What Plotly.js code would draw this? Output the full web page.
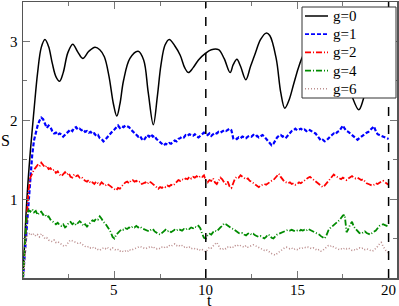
<!DOCTYPE html>
<html>
<head>
<meta charset="utf-8">
<script src="https://cdn.plot.ly/plotly-3.0.1.min.js"></script>
<style>html,body{margin:0;padding:0;background:#fff;}#chart{width:399px;height:306px;}</style>
</head>
<body>
<div id="chart"></div>
<script>
// time grid for the fluctuating series
const t = [0,0.1,0.2,0.3,0.4,0.5,0.6,0.7,0.8,0.9,1,1.1,1.2,1.3,1.4,1.5,1.6,1.7,1.8,1.9,2,2.1,2.2,2.3,2.4,2.5,2.6,2.7,2.8,2.9,3,3.1,3.2,3.3,3.4,3.5,3.6,3.7,3.8,3.9,4,4.1,4.2,4.3,4.4,4.5,4.6,4.7,4.8,4.9,5,5.1,5.2,5.3,5.4,5.5,5.6,5.7,5.8,5.9,6,6.1,6.2,6.3,6.4,6.5,6.6,6.7,6.8,6.9,7,7.1,7.2,7.3,7.4,7.5,7.6,7.7,7.8,7.9,8,8.1,8.2,8.3,8.4,8.5,8.6,8.7,8.8,8.9,9,9.1,9.2,9.3,9.4,9.5,9.6,9.7,9.8,9.9,10,10.1,10.2,10.3,10.4,10.5,10.6,10.7,10.8,10.9,11,11.1,11.2,11.3,11.4,11.5,11.6,11.7,11.8,11.9,12,12.1,12.2,12.3,12.4,12.5,12.6,12.7,12.8,12.9,13,13.1,13.2,13.3,13.4,13.5,13.6,13.7,13.8,13.9,14,14.1,14.2,14.3,14.4,14.5,14.6,14.7,14.8,14.9,15,15.1,15.2,15.3,15.4,15.5,15.6,15.7,15.8,15.9,16,16.1,16.2,16.3,16.4,16.5,16.6,16.7,16.8,16.9,17,17.1,17.2,17.3,17.4,17.5,17.6,17.7,17.8,17.9,18,18.1,18.2,18.3,18.4,18.5,18.6,18.7,18.8,18.9,19,19.1,19.2,19.3,19.4,19.5,19.6,19.7,19.8,19.9,20];

// g=0 (smooth curve)
const t0 = [0,0.2,0.4,0.6,0.8,1.0,1.2,1.4,1.6,1.8,2.0,2.2,2.45,2.72,3.0,3.27,3.6,3.94,4.2,4.45,4.7,4.95,5.13,5.3,5.5,5.85,6.3,6.6,6.85,7.13,7.35,7.55,7.77,8.0,8.3,8.6,8.85,9.05,9.3,9.6,9.96,10.3,10.7,11.0,11.33,11.5,11.7,11.9,12.19,12.45,12.7,13.0,13.3,13.5,13.85,14.1,14.32,14.55,14.8,15.05,15.25,15.6,16.0,16.4,16.8,17.2,17.6,18.0,18.37,18.6,18.85,19.2,19.52,19.8,20.0];
const s0 = [0,0.95,1.6,2.12,2.6,2.92,3.02,2.93,2.72,2.55,2.49,2.6,2.85,2.96,2.86,2.78,2.87,2.92,2.89,2.8,2.56,2.2,2.05,2.2,2.5,2.78,2.87,2.76,2.35,1.94,2.3,2.7,2.95,3.02,2.94,2.82,2.66,2.6,2.66,2.76,2.84,2.89,2.89,2.78,2.6,2.7,2.77,2.68,2.51,2.68,2.84,3.02,3.1,3.07,2.78,2.35,2.15,2.25,2.45,2.65,2.78,2.95,3.0,2.85,2.75,2.8,2.6,2.3,2.13,2.25,2.55,2.8,2.93,2.88,2.76];

// g=1
const s1 = [0,0.33,0.66,0.99,1.30,1.55,1.74,1.86,1.93,1.99,2.03,2.01,1.94,1.90,1.93,1.91,1.86,1.83,1.84,1.81,1.83,1.82,1.79,1.81,1.84,1.86,1.88,1.86,1.90,1.91,1.88,1.89,1.87,1.88,1.85,1.86,1.84,1.85,1.82,1.83,1.80,1.81,1.77,1.76,1.73,1.75,1.78,1.80,1.84,1.86,1.88,1.91,1.93,1.90,1.92,1.91,1.93,1.92,1.91,1.88,1.86,1.84,1.81,1.79,1.80,1.76,1.74,1.78,1.81,1.79,1.82,1.79,1.80,1.76,1.74,1.71,1.70,1.68,1.70,1.69,1.71,1.70,1.72,1.74,1.73,1.76,1.77,1.79,1.78,1.81,1.80,1.82,1.81,1.80,1.82,1.79,1.78,1.80,1.82,1.84,1.83,1.81,1.83,1.80,1.82,1.84,1.83,1.85,1.84,1.86,1.87,1.86,1.88,1.89,1.87,1.77,1.78,1.76,1.78,1.77,1.79,1.78,1.77,1.79,1.80,1.79,1.81,1.79,1.80,1.78,1.80,1.81,1.79,1.76,1.74,1.71,1.68,1.70,1.75,1.78,1.80,1.81,1.79,1.80,1.78,1.81,1.84,1.86,1.87,1.89,1.87,1.88,1.89,1.87,1.88,1.86,1.88,1.87,1.86,1.84,1.83,1.80,1.77,1.74,1.75,1.73,1.74,1.77,1.79,1.81,1.83,1.82,1.85,1.86,1.89,1.93,1.89,1.86,1.85,1.83,1.82,1.80,1.78,1.75,1.77,1.79,1.81,1.82,1.84,1.85,1.87,1.89,1.92,1.86,1.82,1.81,1.80,1.79,1.78,1.77,1.76];

// g=2
const s2 = [0,0.40,0.80,1.10,1.27,1.33,1.37,1.40,1.43,1.41,1.46,1.43,1.40,1.42,1.38,1.39,1.36,1.37,1.33,1.35,1.31,1.29,1.32,1.34,1.31,1.33,1.28,1.27,1.31,1.29,1.30,1.27,1.28,1.25,1.23,1.22,1.24,1.20,1.21,1.19,1.22,1.20,1.18,1.21,1.19,1.17,1.19,1.18,1.16,1.14,1.12,1.11,1.14,1.13,1.16,1.19,1.21,1.22,1.20,1.23,1.24,1.22,1.23,1.21,1.22,1.19,1.20,1.21,1.19,1.22,1.21,1.19,1.17,1.15,1.13,1.15,1.14,1.16,1.15,1.17,1.16,1.18,1.17,1.19,1.22,1.24,1.23,1.25,1.24,1.26,1.25,1.28,1.26,1.28,1.27,1.29,1.27,1.29,1.28,1.30,1.23,1.21,1.24,1.23,1.26,1.21,1.19,1.23,1.27,1.25,1.21,1.19,1.22,1.16,1.14,1.20,1.26,1.28,1.27,1.30,1.28,1.27,1.25,1.26,1.23,1.22,1.20,1.18,1.17,1.15,1.17,1.18,1.19,1.18,1.20,1.21,1.23,1.24,1.27,1.30,1.32,1.28,1.25,1.22,1.21,1.20,1.21,1.19,1.20,1.18,1.19,1.21,1.20,1.22,1.23,1.25,1.27,1.28,1.26,1.25,1.23,1.21,1.18,1.17,1.15,1.17,1.20,1.22,1.25,1.28,1.31,1.29,1.28,1.27,1.25,1.27,1.26,1.24,1.26,1.27,1.29,1.27,1.26,1.27,1.25,1.24,1.25,1.22,1.20,1.19,1.18,1.17,1.18,1.20,1.19,1.21,1.22,1.23,1.21,1.19,1.18];

// g=4
const s4 = [0,0.42,0.78,0.86,0.84,0.87,0.83,0.85,0.80,0.83,0.84,0.80,0.81,0.77,0.78,0.74,0.72,0.70,0.68,0.70,0.67,0.66,0.68,0.64,0.66,0.70,0.71,0.68,0.70,0.67,0.69,0.72,0.70,0.66,0.68,0.65,0.68,0.71,0.73,0.72,0.75,0.74,0.78,0.75,0.71,0.69,0.66,0.62,0.58,0.52,0.50,0.55,0.57,0.59,0.62,0.61,0.63,0.62,0.64,0.63,0.65,0.64,0.66,0.64,0.65,0.63,0.62,0.61,0.60,0.59,0.61,0.62,0.59,0.57,0.56,0.55,0.57,0.60,0.61,0.59,0.60,0.58,0.60,0.61,0.60,0.62,0.61,0.60,0.62,0.61,0.63,0.62,0.64,0.63,0.65,0.64,0.66,0.63,0.56,0.51,0.50,0.54,0.56,0.55,0.58,0.60,0.59,0.62,0.64,0.66,0.69,0.68,0.66,0.65,0.63,0.62,0.60,0.58,0.57,0.56,0.57,0.55,0.54,0.56,0.57,0.55,0.56,0.54,0.53,0.52,0.53,0.51,0.50,0.52,0.55,0.54,0.51,0.50,0.53,0.55,0.56,0.57,0.58,0.59,0.60,0.61,0.60,0.61,0.60,0.59,0.60,0.59,0.61,0.60,0.61,0.60,0.62,0.61,0.60,0.58,0.57,0.56,0.55,0.53,0.51,0.50,0.54,0.60,0.63,0.65,0.67,0.69,0.70,0.73,0.76,0.79,0.80,0.58,0.62,0.68,0.71,0.65,0.62,0.59,0.57,0.56,0.58,0.59,0.57,0.56,0.55,0.57,0.58,0.60,0.63,0.66,0.67,0.68,0.67,0.66,0.65];

// g=6
const s6 = [0,0.30,0.52,0.55,0.57,0.54,0.56,0.53,0.55,0.52,0.56,0.53,0.50,0.51,0.48,0.47,0.46,0.48,0.45,0.46,0.44,0.43,0.41,0.40,0.42,0.46,0.48,0.47,0.46,0.45,0.44,0.45,0.43,0.41,0.40,0.39,0.40,0.38,0.39,0.37,0.38,0.36,0.35,0.37,0.38,0.37,0.39,0.37,0.36,0.38,0.36,0.35,0.36,0.34,0.35,0.33,0.34,0.33,0.36,0.35,0.36,0.37,0.38,0.39,0.40,0.39,0.38,0.37,0.38,0.39,0.38,0.40,0.38,0.37,0.38,0.37,0.39,0.38,0.40,0.39,0.41,0.40,0.42,0.43,0.41,0.42,0.40,0.41,0.39,0.40,0.38,0.39,0.37,0.38,0.37,0.36,0.37,0.35,0.36,0.34,0.33,0.36,0.39,0.38,0.41,0.43,0.45,0.40,0.37,0.36,0.38,0.37,0.39,0.38,0.40,0.39,0.41,0.40,0.42,0.41,0.40,0.39,0.41,0.39,0.40,0.41,0.42,0.41,0.40,0.39,0.37,0.36,0.35,0.36,0.34,0.33,0.31,0.30,0.29,0.31,0.33,0.35,0.36,0.38,0.39,0.38,0.37,0.38,0.36,0.37,0.36,0.38,0.37,0.38,0.39,0.38,0.39,0.38,0.37,0.38,0.36,0.35,0.36,0.34,0.35,0.37,0.39,0.41,0.40,0.41,0.39,0.38,0.37,0.36,0.37,0.36,0.38,0.37,0.38,0.36,0.35,0.36,0.35,0.37,0.38,0.37,0.38,0.36,0.37,0.36,0.35,0.34,0.35,0.37,0.40,0.43,0.45,0.40,0.36,0.33,0.32];

const seriesNames = ['g=0','g=1','g=2','g=4','g=6'];
const xTicks = [5,10,15,20];
const xMinor = [2.5,7.5,12.5,17.5];
const yTicks = [1,2,3];
const yMinor = [0.5,1.5,2.5];
const markTimes = [10,20];

const FONT = '"Liberation Serif", "Times New Roman", Tinos, "DejaVu Serif", serif';

// styles per series (index-aligned with seriesNames)
const lineStyles = [
  {color:'#000000', width:1.5, dash:'solid'},
  {color:'#0000ff', width:2.2, dash:'4px,2px'},
  {color:'#ff0000', width:1.8, dash:'6px,2px,1px,2px'},
  {color:'#008b00', width:1.8, dash:'6px,2px,1px,2px'},
  {color:'#bc8f8f', width:1.6, dash:'1px,2px'}
];
const xs = [t0, t, t, t, t];
const ys = [s0, s1, s2, s4, s6];

const traces = seriesNames.map((n, i) => ({
  x: xs[i], y: ys[i], name: n, mode: 'lines', showlegend: false,
  line: Object.assign({}, lineStyles[i], i === 0 ? {shape:'spline', smoothing:1} : {})
}));

const axisCommon = {
  showgrid:false, zeroline:false, showline:true, linecolor:'#555', linewidth:1.5,
  ticks:'inside', ticklen:7, tickwidth:1, tickcolor:'#777', mirror:'ticks',
  showticklabels:false
};

// pixel helpers for the plot frame (margins below)
const ML = 23, MT = 2, PW = 374, PH = 276;
const px = v => (v - ML) / PW;
const py = v => (MT + PH - v) / PH;

const tickFont = {family:FONT, size:15, color:'#000'};
const xLabelAnn = xTicks.map(v => ({text:String(v), xref:'x', yref:'paper', x:v, y:py(289.5),
  xanchor:'center', yanchor:'middle', showarrow:false, font:tickFont}));
const yLabelAnn = yTicks.map(v => ({text:String(v), xref:'paper', yref:'y', x:px(20), y:v, yshift:-1,
  xanchor:'right', yanchor:'middle', showarrow:false, font:tickFont}));

// manual legend box (grace-style)
const legRowY = [16, 34.2, 52.4, 70.6, 88.8];
const legendShapes = [{type:'rect', xref:'paper', yref:'paper', x0:px(302), x1:px(396), y0:py(98), y1:py(7),
  fillcolor:'#fff', line:{color:'#333', width:1}, layer:'above'}].concat(
  seriesNames.map((n, i) => ({type:'line', xref:'paper', yref:'paper', x0:px(305), x1:px(328),
    y0:py(legRowY[i]), y1:py(legRowY[i]), layer:'above',
    line:{color:lineStyles[i].color, width:Math.min(lineStyles[i].width, 1.8), dash:lineStyles[i].dash}})));
const legendAnn = seriesNames.map((n, i) => ({text:n, xref:'paper', yref:'paper', x:px(331), y:py(legRowY[i]),
  xanchor:'left', yanchor:'middle', showarrow:false, font:{family:FONT, size:15, color:'#000'}}));

const layout = {
  width:399, height:306,
  margin:{l:ML, r:2, t:MT, b:28},
  paper_bgcolor:'#fff', plot_bgcolor:'#fff',
  font:{family:FONT, size:15, color:'#000'},
  showlegend:false,
  xaxis:Object.assign({}, axisCommon, {
    range:[0,20.46], tickmode:'array', tickvals:xTicks,
    minor:{tickmode:'array', tickvals:xMinor, ticks:'inside', ticklen:4, tickcolor:'#777', showgrid:false}
  }),
  yaxis:Object.assign({}, axisCommon, {
    range:[0,3.494], tickmode:'array', tickvals:yTicks,
    minor:{tickmode:'array', tickvals:yMinor, ticks:'inside', ticklen:4, tickcolor:'#777', showgrid:false}
  }),
  shapes: markTimes.map(v => ({type:'line', xref:'x', yref:'paper', x0:v, x1:v, y0:0, y1:1,
    line:{color:'#000', width:1.5, dash:'dash'}})).concat(legendShapes),
  annotations:[
    {text:'S', xref:'paper', yref:'paper', x:px(5), y:0.5, xanchor:'center', yanchor:'middle', showarrow:false,
     font:{family:FONT, size:16, color:'#000'}},
    {text:'t', xref:'paper', yref:'paper', x:px(209), y:py(290), xanchor:'center', yanchor:'top', showarrow:false,
     font:{family:FONT, size:16, color:'#000'}}
  ].concat(xLabelAnn, yLabelAnn, legendAnn)
};

Plotly.newPlot('chart', traces, layout, {displayModeBar:false, staticPlot:true});
</script>
</body>
</html>
